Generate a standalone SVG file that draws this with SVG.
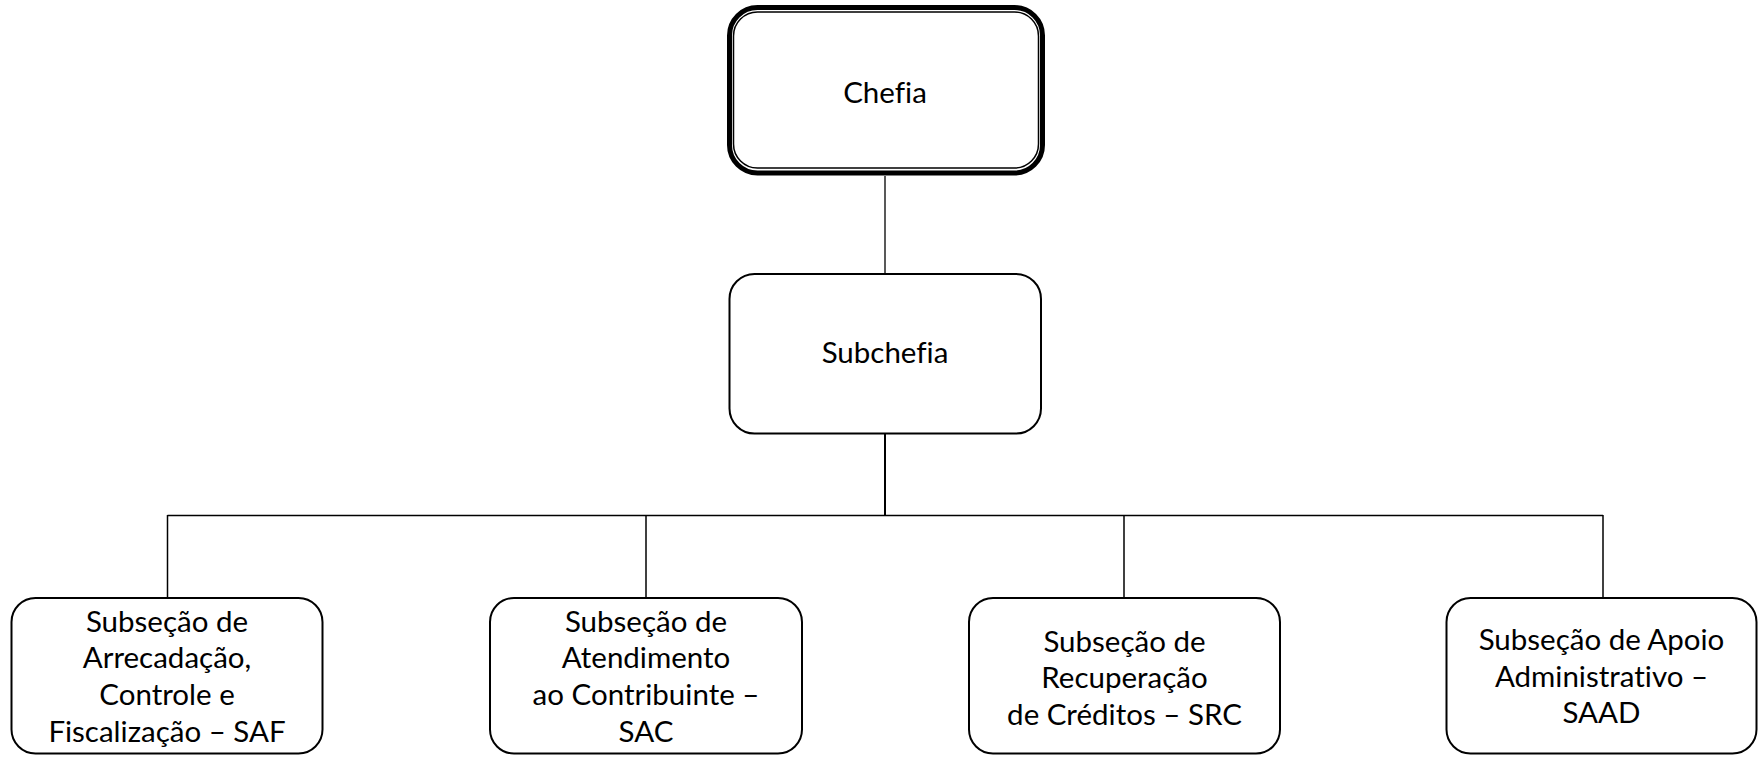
<svg xmlns="http://www.w3.org/2000/svg" width="1759" height="758" viewBox="0 0 1759 758">
<style>
.box{fill:#fff;stroke:#000;stroke-width:2}
.t{font-family:Lato,"Liberation Sans",sans-serif;font-size:29.5px;fill:#000;text-anchor:middle;font-variant-ligatures:none}
.c{stroke:#000;fill:none}
</style>
<rect width="1759" height="758" fill="#fff"/>
<g id="connectors">
<line x1="885" y1="176" x2="885" y2="274" style="stroke:#595959;stroke-width:2"/>
<line class="c" x1="885" y1="434" x2="885" y2="515" stroke-width="2"/>
<line class="c" x1="167.5" y1="515.5" x2="1603" y2="515.5" stroke-width="1.5"/>
<line class="c" x1="167.5" y1="515" x2="167.5" y2="598" stroke-width="1.5"/>
<line class="c" x1="646" y1="515" x2="646" y2="598" stroke-width="1.5"/>
<line class="c" x1="1124" y1="515" x2="1124" y2="598" stroke-width="1.5"/>
<line class="c" x1="1603" y1="515" x2="1603" y2="598" stroke-width="1.5"/>
</g>
<g id="chefia">
<rect x="729.5" y="7.5" width="313" height="165.5" rx="28" ry="28" fill="#fff" stroke="#000" stroke-width="5"/>
<rect x="733.5" y="12" width="305" height="156" rx="24" ry="24" fill="none" stroke="#000" stroke-width="1.5"/>
<text class="t" x="885" y="103">Chefia</text>
</g>
<g id="subchefia">
<rect class="box" x="729.5" y="274" width="311.5" height="159.5" rx="25" ry="25"/>
<text class="t" x="885" y="363">Subchefia</text>
</g>
<g id="saf">
<rect class="box" x="11.5" y="598" width="311" height="155.5" rx="24" ry="24"/>
<text class="t" x="167" y="631.7">Subseção de</text>
<text class="t" x="167" y="668.3">Arrecadação,</text>
<text class="t" x="167" y="705">Controle e</text>
<text class="t" x="167" y="741.6">Fiscalização – SAF</text>
</g>
<g id="sac">
<rect class="box" x="490" y="598" width="312" height="155.5" rx="24" ry="24"/>
<text class="t" x="646" y="631.7">Subseção de</text>
<text class="t" x="646" y="668.3">Atendimento</text>
<text class="t" x="646" y="705">ao Contribuinte –</text>
<text class="t" x="646" y="741.6">SAC</text>
</g>
<g id="src">
<rect class="box" x="969" y="598" width="311" height="155.5" rx="24" ry="24"/>
<text class="t" x="1124.5" y="651.7">Subseção de</text>
<text class="t" x="1124.5" y="688.3">Recuperação</text>
<text class="t" x="1124.5" y="725">de Créditos – SRC</text>
</g>
<g id="saad">
<rect class="box" x="1446.5" y="598" width="310" height="155.5" rx="24" ry="24"/>
<text class="t" x="1601.5" y="650">Subseção de Apoio</text>
<text class="t" x="1601.5" y="686.6">Administrativo –</text>
<text class="t" x="1601.5" y="723.3">SAAD</text>
</g>
</svg>
